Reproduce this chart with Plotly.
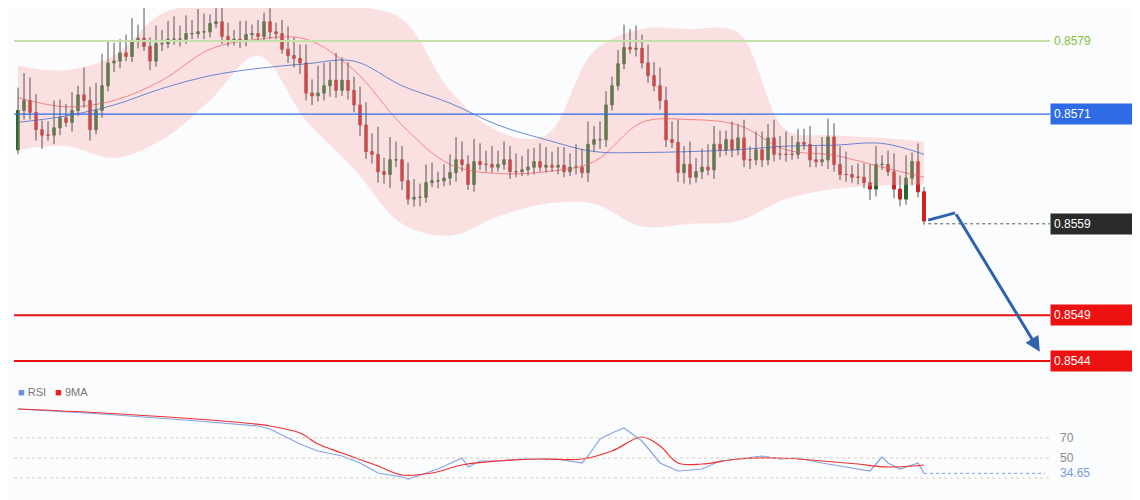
import plotly.graph_objects as go

# ── Data ─────────────────────────────────────────────────────────────────────
closes = [
    .85714, .85725, .85712, .85693, .85687, .85687, .85695, .85706, .85701, .85714,
    .85731, .85725, .85693, .85714, .85741, .85766, .85768, .85777, .85773, .85790,
    .85793, .85784, .85768, .85787, .85787, .85792, .85792, .85792, .85798, .85798,
    .85800, .85800, .85809, .85811, .85795, .85790, .85792, .85790, .85797, .85798,
    .85795, .85811, .85800, .85798, .85781, .85774, .85771, .85766, .85733, .85730,
    .85733, .85741, .85747, .85736, .85747, .85736, .85720, .85698, .85669, .85666,
    .85647, .85644, .85660, .85660, .85637, .85617, .85619, .85619, .85635, .85637,
    .85637, .85640, .85646, .85660, .85655, .85633, .85658, .85655, .85655, .85652,
    .85655, .85660, .85647, .85647, .85649, .85652, .85658, .85652, .85654, .85652,
    .85654, .85647, .85652, .85652, .85646, .85677, .85682, .85682, .85720, .85741,
    .85765, .85783, .85781, .85782, .85766, .85752, .85741, .85725, .85682, .85679,
    .85646, .85655, .85641, .85647, .85652, .85649, .85677, .85671, .85682, .85671,
    .85684, .85660, .85660, .85671, .85660, .85684, .85666, .85666, .85666, .85666,
    .85679, .85677, .85660, .85658, .85660, .85685, .85655, .85644, .85644, .85641,
    .85641, .85635, .85628, .85655, .85655, .85647, .85628, .85617, .85640, .85658,
    .85625, .85593,
]
first_open = 0.85671
# wick lengths in 1e-5 units
upper_wick = [
    25, 30, 25, 20, 10, 15, 30, 20, 15, 20,
    10, 30, 15, 30, 35, 25, 20, 15, 20, 25,
    15, 35, 10, 20, 15, 20, 25, 15, 20, 15,
    25, 20, 10, 15, 20, 15, 10, 20, 15, 10,
    15, 10, 15, 10, 15, 25, 20, 15, 20, 15,
    30, 25, 20, 30, 25, 20, 15, 20, 25, 20,
    30, 15, 25, 20, 15, 20, 20, 15, 20, 20,
    10, 15, 20, 25, 20, 10, 25, 20, 15, 20,
    15, 20, 15, 20, 15, 20, 15, 20, 20, 15,
    20, 20, 15, 25, 20, 25, 15, 20, 15, 10,
    15, 25, 20, 25, 15, 20, 15, 20, 15, 20,
    25, 20, 25, 15, 20, 25, 20, 15, 10, 20,
    15, 20, 15, 20, 20, 15, 20, 20, 25, 20,
    15, 15, 20, 15, 25, 20, 15, 20, 25, 10,
    15, 15, 20, 20, 10, 15, 20, 15, 25, 10,
    20, 5,
]
lower_wick = [
    5, 10, 8, 12, 15, 6, 10, 8, 5, 10,
    6, 8, 12, 5, 8, 6, 10, 8, 5, 6,
    8, 5, 10, 6, 8, 5, 6, 8, 5, 6,
    5, 8, 6, 5, 8, 6, 5, 8, 6, 5,
    6, 5, 8, 6, 5, 8, 10, 12, 8, 10,
    6, 8, 12, 8, 6, 10, 8, 12, 8, 10,
    12, 10, 15, 8, 10, 6, 8, 10, 6, 5,
    8, 6, 8, 10, 8, 6, 8, 6, 8, 6,
    5, 6, 8, 6, 5, 6, 8, 5, 6, 5,
    8, 6, 5, 8, 6, 10, 8, 10, 8, 6,
    5, 6, 5, 8, 6, 8, 6, 10, 8, 6,
    10, 12, 8, 6, 8, 6, 10, 8, 6, 8,
    6, 8, 10, 6, 8, 6, 8, 6, 8, 6,
    5, 6, 8, 6, 5, 10, 8, 6, 8, 6,
    8, 6, 12, 8, 6, 5, 10, 8, 6, 8,
    6, 4,
]

band_idx   = [0, 8, 16, 24, 32, 40, 48, 56, 64, 72, 80, 88, 96, 104, 112, 120, 128, 136, 144, 151]
band_upper = [.85763, .85758, .85774, .85820, .85831, .85833, .85831, .85828, .85814, .85736,
              .85691, .85687, .85779, .85803, .85803, .85799, .85693, .85687, .85684, .85680]
band_lower = [.85671, .85675, .85662, .85682, .85725, .85774, .85703, .85650, .85590, .85577,
              .85598, .85612, .85612, .85587, .85590, .85593, .85617, .85628, .85632, .85633]
ma_red     = [.85728, .85718, .85725, .85747, .85781, .85792, .85792, .85758, .85698, .85655,
              .85645, .85647, .85658, .85701, .85704, .85698, .85671, .85665, .85652, .85641]
ma_blue    = [.85701, .85708, .85720, .85738, .85752, .85760, .85765, .85768, .85741, .85722,
              .85698, .85682, .85669, .85668, .85669, .85671, .85675, .85676, .85678, .85666]

levels = {"0.8579": 0.8579, "0.8571": 0.8571, "0.8559": 0.8559, "0.8549": 0.8549, "0.8544": 0.8544}

arrow_x = [151.7, 156.2, 170.3]
arrow_y = [0.85594, 0.85602, 0.85450]

rsi_idx = [0, 14, 30, 40, 42, 47, 50, 54, 57, 60, 64, 65, 67, 70, 74, 75, 77, 80, 84, 90,
           94, 95, 97, 99, 101, 104, 107, 110, 114, 117, 120, 124, 127, 130, 134, 137, 140, 142,
           144, 145, 147, 149, 150, 151]
rsi_val = [99, 94, 87, 82, 79, 64, 57, 52, 45, 35, 31, 29, 33, 39, 50, 41, 47, 47, 49, 49,
           45, 52, 69, 75, 80, 67, 45, 37, 39, 47, 49, 52, 49, 50, 45, 42, 39, 37,
           51, 45, 39, 43, 45, 34.65]
ma9_idx = [0, 14, 34, 42, 47, 50, 54, 60, 64, 69, 74, 80, 87, 94, 99, 104, 107, 110, 114,
           120, 127, 134, 140, 145, 151]
ma9_val = [99, 95, 87, 82, 75, 64, 55, 42, 33, 35, 43, 47, 49, 49, 57, 71, 62, 45, 44,
           49, 50, 47, 44, 41, 43]

# ── Build OHLC ───────────────────────────────────────────────────────────────
opens = [first_open] + closes[:-1]
idx = list(range(len(closes)))
body_hi = [max(o, c) for o, c in zip(opens, closes)]
body_lo = [min(o, c) for o, c in zip(opens, closes)]
wx, wy = [], []
for i, h, l, uw, lw in zip(idx, body_hi, body_lo, upper_wick, lower_wick):
    wx += [i, i, None]
    wy += [h + uw * 1e-5, l - lw * 1e-5, None]

GREEN, RED, BLUE = "#1a6e1a", "#ee1111", "#2e6be6"
X0, X1 = -1.67, 188.33


def px(p):
    """page pixel x -> paper x (page body has an 8px offset)"""
    return (p - 8) / 1140


def idx_at(p):
    return X0 + (p - 8) / 1140 * (X1 - X0)


fig = go.Figure()

# bollinger band
fig.add_trace(go.Scatter(x=band_idx, y=band_upper, mode="lines", line=dict(width=0, shape="spline"),
                         hoverinfo="skip", showlegend=False))
fig.add_trace(go.Scatter(x=band_idx, y=band_lower, mode="lines", line=dict(width=0, shape="spline"),
                         fill="tonexty", fillcolor="rgba(250,190,190,0.45)", hoverinfo="skip", showlegend=False))

# level lines
lvl_style = {"0.8579": ("#c5e0a8", 2), "0.8571": (BLUE, 1.3), "0.8549": (RED, 2), "0.8544": (RED, 2)}
for k, (col, w) in lvl_style.items():
    fig.add_shape(type="line", xref="paper", x0=px(14), x1=px(1050), y0=levels[k], y1=levels[k],
                  line=dict(color=col, width=w))
fig.add_shape(type="line", x0=arrow_x[0], x1=idx_at(1050), y0=levels["0.8559"], y1=levels["0.8559"],
              line=dict(color="#555", width=1, dash="dot"))

# moving averages
fig.add_trace(go.Scatter(x=band_idx, y=ma_red, mode="lines", line=dict(color="rgba(240,110,110,0.8)", width=1, shape="spline"),
                         showlegend=False))
fig.add_trace(go.Scatter(x=band_idx, y=ma_blue, mode="lines", line=dict(color="rgba(70,110,200,0.8)", width=1, shape="spline"),
                         showlegend=False))

# wicks + bodies
fig.add_trace(go.Scatter(x=wx, y=wy, mode="lines", line=dict(color="#555", width=1), showlegend=False, hoverinfo="skip"))
fig.add_trace(go.Candlestick(x=idx, open=opens, close=closes, high=body_hi, low=body_lo, whiskerwidth=0,
                             increasing=dict(line=dict(color=GREEN, width=1), fillcolor=GREEN),
                             decreasing=dict(line=dict(color=RED, width=1), fillcolor=RED),
                             showlegend=False))

# arrow
fig.add_trace(go.Scatter(x=arrow_x[:2], y=arrow_y[:2], mode="lines", line=dict(color="#2f62ad", width=3), showlegend=False))
fig.add_annotation(x=arrow_x[2], y=arrow_y[2], ax=arrow_x[1], ay=arrow_y[1], xref="x", yref="y", axref="x", ayref="y",
                   text="", showarrow=True, arrowhead=2, arrowsize=1, arrowwidth=3, arrowcolor="#2f62ad")

# RSI panel
for v in [70, 50, 30]:
    fig.add_shape(type="line", xref="paper", yref="y2", x0=px(14), x1=px(1050), y0=v, y1=v,
                  line=dict(color="#d9cbb5", width=1, dash="dot"))
fig.add_shape(type="line", yref="y2", x0=rsi_idx[-1], x1=idx_at(1045), y0=rsi_val[-1], y1=rsi_val[-1],
              line=dict(color="#7a9be0", width=1, dash="dot"))
fig.add_trace(go.Scatter(x=rsi_idx, y=rsi_val, yaxis="y2", mode="lines", line=dict(color="#86a3e3", width=1.2), showlegend=False))
fig.add_trace(go.Scatter(x=ma9_idx, y=ma9_val, yaxis="y2", mode="lines", line=dict(color="#f03030", width=1.2, shape="spline"),
                         showlegend=False))

# right labels
label_style = {"0.8579": (None, "#7fbf3f"), "0.8571": (BLUE, "white"), "0.8559": ("#2b2b2b", "white"),
               "0.8549": (RED, "white"), "0.8544": (RED, "white")}
for k, (bg, fc) in label_style.items():
    fig.add_annotation(xref="paper", x=px(1050), y=levels[k], text=k, showarrow=False, xanchor="left",
                       font=dict(color=fc, size=12, family="Arial"), bgcolor=bg or "rgba(0,0,0,0)",
                       borderpad=3, width=80, align="left")
for v, col in [(70, "#888"), (50, "#888"), (34.65, "#7a9be0")]:
    fig.add_annotation(xref="paper", yref="y2", x=px(1058), y=v, text=f"{v:g}", showarrow=False, xanchor="left",
                       font=dict(color=col, size=12, family="Arial"))
fig.add_annotation(xref="paper", yref="paper", x=px(16), y=1 - 392 / 500, showarrow=False, xanchor="left",
                   text="<span style='color:#6b8fdc'>■</span> RSI   <span style='color:#ee1c1c'>■</span> 9MA",
                   font=dict(color="#777", size=11, family="Arial"))

fig.update_layout(
    width=1140, height=500, margin=dict(l=0, r=0, t=0, b=0),
    paper_bgcolor="#fbfcfd", plot_bgcolor="#fbfcfd", showlegend=False,
    xaxis=dict(range=[X0, X1], visible=False, rangeslider=dict(visible=False)),
    yaxis=dict(range=[0.854191, 0.858261], domain=[0.256, 1], visible=False),
    yaxis2=dict(range=[0, 128], domain=[0, 0.256], visible=False),
)
fig.write_html("out.html")
